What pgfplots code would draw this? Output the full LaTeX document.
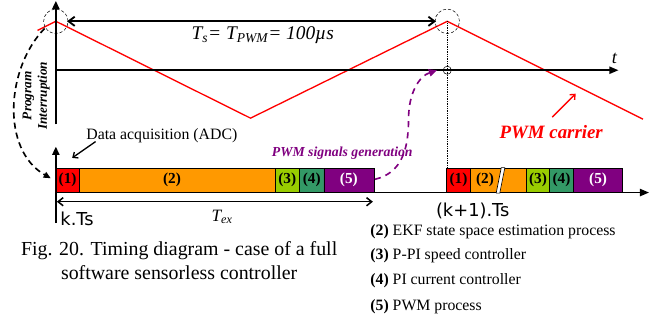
\documentclass[border=0pt]{standalone}
\usepackage{pgfplots}
\pgfplotsset{compat=1.18}
\usepackage{fontspec}
\setmainfont{Liberation Serif}
\newfontfamily\dejavu{DejaVu Sans}
\usetikzlibrary{arrows.meta}
\definecolor{borange}{HTML}{FF9900}
\definecolor{bgreen}{HTML}{99CC00}
\definecolor{bteal}{HTML}{339966}
\definecolor{bpurple}{HTML}{800080}
\newcommand{\fs}[1]{\fontsize{#1}{#1}\selectfont}
\begin{document}
\begin{tikzpicture}
\begin{axis}[width=650pt,height=315pt,scale only axis,
  xmin=0,xmax=650,ymin=0,ymax=315,y dir=reverse,
  hide axis,clip=false]
% PWM carrier
\addplot[red,line width=1.3pt,mark=none] coordinates {(41,33) (59,24) (250,119) (443,24) (635,120)};
% top time axis
\addplot[black,line width=1.8pt,mark=none,-{Triangle[length=8pt,width=7pt]}] coordinates {(59,125) (59,4)};
\addplot[black,line width=1.8pt,mark=none,-{Triangle[length=9pt,width=7pt]}] coordinates {(59,72) (611,72)};
% Ts arrow
\addplot[black,line width=1.8pt,mark=none,{Straight Barb[length=6pt,width=9pt]}-{Straight Barb[length=6pt,width=9pt]}] coordinates {(70,24) (432,24)};
% dashed circles
\draw[black,densely dashed,line width=0.5pt] (axis cs:59,24) circle[radius=12pt];
\draw[black,densely dashed,line width=0.5pt] (axis cs:443,24) circle[radius=12pt];
\draw[black,line width=0.5pt] (axis cs:443,72) circle[radius=4pt];
\addplot[black,densely dotted,line width=0.7pt,mark=none] coordinates {(443,24) (443,168)};
% bottom axis
\addplot[black,line width=1.8pt,mark=none,-{Triangle[length=8pt,width=7pt]}] coordinates {(59,222) (59,147)};
\addplot[black,line width=1.8pt,mark=none,-{Triangle[length=9pt,width=7pt]}] coordinates {(59,192) (641,192)};
% bars group 1
\addplot[draw=black,fill=red,line width=0.6pt] coordinates {(59,168) (82,168) (82,192) (59,192) (59,168)};
\addplot[draw=black,fill=borange,line width=0.6pt] coordinates {(82,168) (274,168) (274,192) (82,192) (82,168)};
\addplot[draw=black,fill=bgreen,line width=0.6pt] coordinates {(274,168) (298,168) (298,192) (274,192) (274,168)};
\addplot[draw=black,fill=bteal,line width=0.6pt] coordinates {(298,168) (322,168) (322,192) (298,192) (298,168)};
\addplot[draw=black,fill=bpurple,line width=0.6pt] coordinates {(322,168) (371,168) (371,192) (322,192) (322,168)};
% bars group 2
\addplot[draw=black,fill=red,line width=0.6pt] coordinates {(442,168) (466,168) (466,192) (442,192) (442,168)};
\addplot[draw=black,fill=borange,line width=0.6pt] coordinates {(466,168) (521,168) (521,192) (466,192) (466,168)};
\addplot[draw=black,fill=white,line width=0.6pt] coordinates {(491,192.5) (496,167.5) (499.5,167.5) (494.5,192.5) (491,192.5)};
\addplot[draw=black,fill=bgreen,line width=0.6pt] coordinates {(521,168) (543,168) (543,192) (521,192) (521,168)};
\addplot[draw=black,fill=bteal,line width=0.6pt] coordinates {(543,168) (567,168) (567,192) (543,192) (543,168)};
\addplot[draw=black,fill=bpurple,line width=0.6pt] coordinates {(567,168) (615,168) (615,192) (567,192) (567,168)};
\addplot[black,line width=1.8pt,mark=none] coordinates {(371,192) (442,192)};
% bar labels
\node[font=\fs{15}\bfseries] at (axis cs:70.5,180) {(1)};
\node[font=\fs{15}\bfseries] at (axis cs:173,180) {(2)};
\node[font=\fs{15}\bfseries] at (axis cs:286,180) {(3)};
\node[font=\fs{15}\bfseries] at (axis cs:310,180) {(4)};
\node[font=\fs{15}\bfseries,white] at (axis cs:346.5,180) {(5)};
\node[font=\fs{15}\bfseries] at (axis cs:454,180) {(1)};
\node[font=\fs{15}\bfseries] at (axis cs:480,180) {(2)};
\node[font=\fs{15}\bfseries] at (axis cs:532,180) {(3)};
\node[font=\fs{15}\bfseries] at (axis cs:555,180) {(4)};
\node[font=\fs{15}\bfseries,white] at (axis cs:591,180) {(5)};
% Tex arrow
\addplot[black,line width=1.5pt,mark=none,{Straight Barb[length=5pt,width=8pt]}-{Straight Barb[length=5pt,width=8pt]}] coordinates {(60,201) (370,201)};
\node[font=\fs{17}\itshape] at (axis cs:222,216) {T\textsubscript{ex}};
\node[font=\fs{17.5}\dejavu,anchor=west] at (axis cs:60,218) {k.Ts};
\node[font=\fs{17.5}\dejavu] at (axis cs:468,210) {(k+1).Ts};
% Ts text
\node[font=\fs{19}\itshape] at (axis cs:262,38) {T\textsubscript{s}= T\textsubscript{PWM}= 100\textmu s};
\node[font=\fs{18}\itshape] at (axis cs:607,60) {t};
% PWM carrier label
\node[font=\fs{18.5}\bfseries\itshape,red] at (axis cs:545,133) {PWM carrier};
\draw[red,line width=1.3pt,-{Straight Barb[length=4pt,width=7pt]}] (axis cs:546,118) -- (axis cs:569,95);
% Program interruption
\node[font=\fs{13}\bfseries\itshape,rotate=90] at (axis cs:32,97) {Program};
\node[font=\fs{13}\bfseries\itshape,rotate=90] at (axis cs:47,97) {Interruption};
\draw[black,dashed,dash pattern=on 6pt off 4pt,line width=1.6pt,-{Triangle[length=7pt,width=6pt]}] (axis cs:48,31) .. controls (axis cs:10,70) and (axis cs:5,150) .. (axis cs:54,178);
% Data acquisition
\node[font=\fs{15.5}] at (axis cs:163,136) {Data acquisition (ADC)};
\draw[black,line width=1.3pt,-{Straight Barb[length=4pt,width=7pt]}] (axis cs:98,142) -- (axis cs:75,158);
% PWM signals generation
\node[font=\fs{13.5}\bfseries\itshape,bpurple] at (axis cs:340,153) {PWM signals generation};
\draw[bpurple,line width=1.6pt,dash pattern=on 6pt off 5pt,-{Triangle[length=8pt,width=7pt]}] (axis cs:372,179) .. controls (axis cs:398,173) and (axis cs:405,150) .. (axis cs:405,120) .. controls (axis cs:405,95) and (axis cs:415,78) .. (axis cs:433,72);
% caption
\node[font=\fs{19.5},align=center] at (axis cs:180,259) {Fig. 20. Timing diagram - case of a full\\[4pt] software sensorless controller};
% legend
\node[font=\fs{15.5},anchor=west] at (axis cs:364,230) {\textbf{(2)} EKF state space estimation process};
\node[font=\fs{15.5},anchor=west] at (axis cs:364,254) {\textbf{(3)} P-PI speed controller};
\node[font=\fs{15.5},anchor=west] at (axis cs:364,278) {\textbf{(4)} PI current controller};
\node[font=\fs{15.5},anchor=west] at (axis cs:364,304) {\textbf{(5)} PWM process};
\end{axis}
\end{tikzpicture}
\end{document}
